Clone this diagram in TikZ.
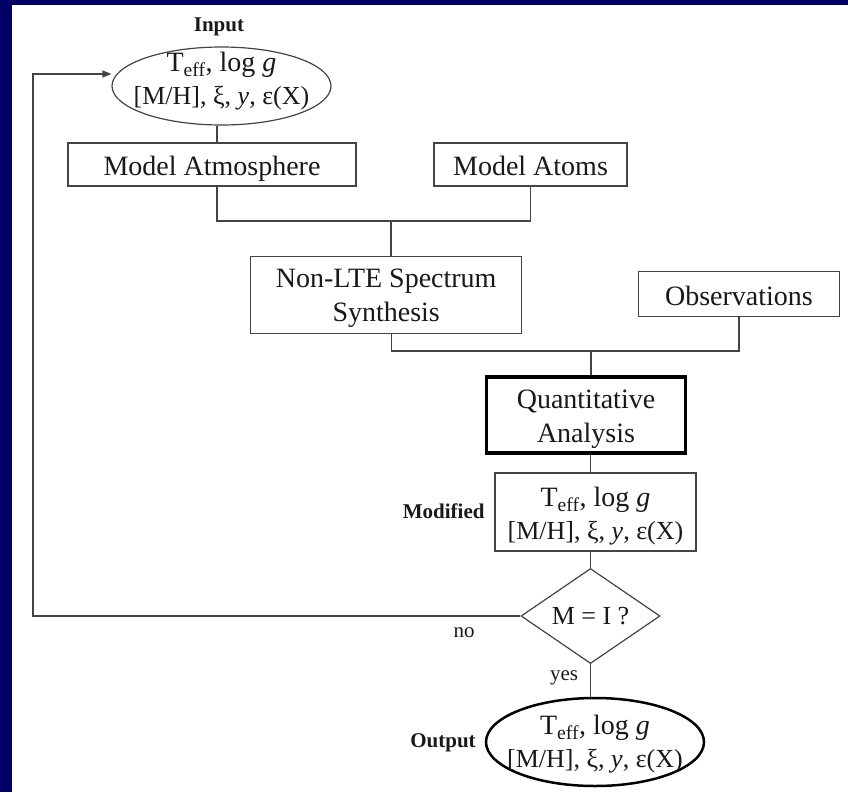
\documentclass[tikz,border=0pt]{standalone}
\usepackage{fontspec}
\setmainfont{Liberation Serif}
\usetikzlibrary{shapes.geometric,arrows.meta,calc}
\definecolor{navyborder}{HTML}{000066}
\definecolor{linegray}{HTML}{444444}
\newcommand{\params}{T\textsubscript{eff}, log \textit{g}\\[-1pt]\fontsize{26}{34}\selectfont [M/H], ξ, \textit{y}, ε(X)}
\begin{document}
\begin{tikzpicture}[x=1pt,y=-1pt,
  conn/.style={draw=linegray,line width=1.3pt},
  box/.style={rectangle,draw=linegray,line width=1.2pt,fill=white,inner sep=0pt},
  ell/.style={ellipse,inner sep=0pt},
  ptext/.style={align=center,font=\fontsize{28}{34}\selectfont,text=black!90,inner sep=0pt},
  btext/.style={label={[ptext,yshift=-4pt]center:#1}},
  stext/.style={label={[ptext,text height=28pt,text depth=6pt]center:#1}},
  lbl/.style={font=\fontsize{21}{24}\selectfont\bfseries,text=black!90,inner sep=0pt},
  small/.style={font=\fontsize{21}{24}\selectfont,text=black!90,inner sep=0pt}
]
\useasboundingbox (0,0) rectangle (848,792);
\fill[navyborder] (0,0) rectangle (848,792);
\fill[white] (12,5) rectangle (848,792);

% nodes
\node[lbl] (inlbl) at (219,27) {Input};
\node[ell,draw=linegray,line width=1.2pt,minimum width=219,minimum height=78,
  label={[ptext,yshift=5pt]center:\params}] (ein) at (221.5,86) {};
\node[box,minimum width=288,minimum height=43,stext={Model Atmosphere}] (atm) at (212,164.5) {};
\node[box,minimum width=193,minimum height=43,stext={Model Atoms}] (atoms) at (530.5,164.5) {};
\node[box,minimum width=271,minimum height=77,btext={Non-LTE Spectrum\\Synthesis}] (nlte) at (386.2,294.7) {};
\node[box,minimum width=200.6,minimum height=44.3,stext={Observations}] (obs) at (739,294) {};
\node[box,draw=black,line width=3.5pt,minimum width=199,minimum height=76,btext={Quantitative\\Analysis}] (qa) at (586,415) {};
\node[lbl] (modlbl) at (443.7,511.7) {Modified};
\node[box,minimum width=201,minimum height=78,btext={\params}] (mod) at (595.5,512) {};
\node[diamond,draw=linegray,line width=1.2pt,inner sep=0pt,minimum width=139,minimum height=95,
  font=\fontsize{26}{30}\selectfont,text=black!90] (dia) at (590.5,616) {M = I ?};
\node[small] (nolbl) at (464,633) {no};
\node[small] (yeslbl) at (564,678) {yes};
\node[lbl] (outlbl) at (443,743) {Output};
\node[ell,draw=black,line width=2.5pt,minimum width=218,minimum height=88,
  label={[ptext,yshift=-2pt]center:\params}] (eout) at (595,742) {};

\coordinate (j1) at (391,221);
\coordinate (j2) at (591,351);
\coordinate (c1) at (33,74);

% connectors
\draw[conn] ([xshift=5pt]atm.north) -- ([xshift=5pt]atm.north |- ein.south);
\draw[conn] ([xshift=5pt]atm.south) |- (j1) -| (atoms.south);
\draw[conn] (j1) -- (j1 |- nlte.north);
\draw[conn] ([xshift=5pt]nlte.south) |- (j2) -| (obs.south);
\draw[conn] (j2) -- (j2 |- qa.north);
\draw[conn] (dia.north |- qa.south) -- (dia.north |- mod.north);
\draw[conn] (dia.north |- mod.south) -- (dia.north);
\draw[conn] (dia.south) -- (dia.south |- eout.north);
\draw[conn,-{Triangle[length=9pt,width=7pt]}] (dia.west) -| (c1) -- (c1 -| ein.west);
\end{tikzpicture}
\end{document}
